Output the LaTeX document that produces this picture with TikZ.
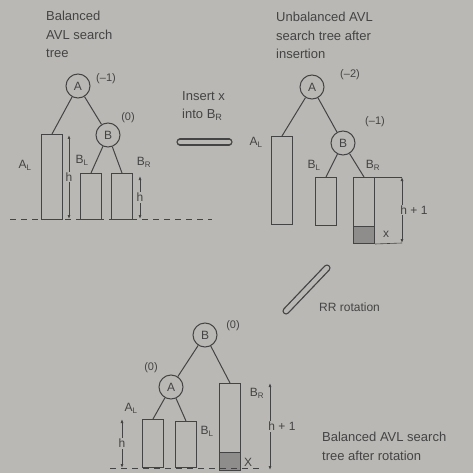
\documentclass[tikz,border=0pt]{standalone}
\usepackage{fontspec}
\setmainfont{Liberation Sans}
\usepackage{tikz}
\usetikzlibrary{positioning,arrows.meta}
\definecolor{paper}{RGB}{186,184,181}
\definecolor{ink}{RGB}{68,68,68}
\definecolor{shade}{RGB}{142,141,139}
\tikzset{
  avl/.style={draw=ink,line width=1pt,circle,minimum size=24pt,inner sep=0pt,text=ink,font=\fontsize{12}{12}\selectfont},
  sub/.style={draw=ink,line width=1pt,minimum width=21pt,inner sep=0pt,anchor=north},
  lbl/.style={text=ink,inner sep=1pt,font=\fontsize{12}{14}\selectfont},
  bal/.style={text=ink,inner sep=0pt,font=\fontsize{11}{11}\selectfont},
  txt/.style={text=ink,inner sep=0pt,anchor=north west,align=left,font=\fontsize{13}{18.5}\selectfont},
  edg/.style={draw=ink,line width=1pt},
  hgt/.style={{Latex[length=4pt,width=3pt]}-{Latex[length=4pt,width=3pt]},draw=ink,line width=0.9pt},
  dim/.style={draw=ink,semithick},
  base/.style={draw=ink,line width=1pt,dash pattern=on 6pt off 5pt},
  big/.style={draw=ink,line width=1.3pt,double=paper,double distance=4.5pt,line cap=round},
}
\begin{document}
\begin{tikzpicture}[x=1pt,y=-1pt]
  \fill[paper] (0,0) rectangle (473,473);
  \useasboundingbox (0,0) rectangle (473,473);
  % balanced tree
  \node[txt] (t1) at (46,11) {Balanced\\AVL search\\tree};
  \node[avl] (a1) at (78,86) {A};
  \node[avl] (b1) at (108,135) {B};
  \node[sub,minimum height=85] (al1) at (52,134) {};
  \node[sub,minimum height=46] (bl1) at (91,173) {};
  \node[sub,minimum height=46] (br1) at (122,173) {};
  \node[bal] at (106,79) {(\textendash1)};
  \node[bal] at (128,118) {(0)};
  \node[lbl] at (25,165) {A\textsubscript{L}};
  \node[lbl] at (82,160) {B\textsubscript{L}};
  \node[lbl] at (144,162) {B\textsubscript{R}};
  \draw[edg] (a1) -- (al1.north);
  \draw[edg] (a1) -- (b1);
  \draw[edg] (b1) -- (bl1.north);
  \draw[edg] (b1) -- (br1.north);
  \coordinate (g1l) at (10,219);
  \coordinate (g1r) at (212,219);
  \draw[base] (g1l) -- (g1r);
  \coordinate (h1t) at (69,135);
  \coordinate (h1b) at (69,219);
  \draw[hgt] (h1t) -- node[lbl,fill=paper]{h} (h1b);
  \coordinate (h2t) at (140,176);
  \coordinate (h2b) at (140,219);
  \draw[hgt] (h2t) -- node[lbl,fill=paper]{h} (h2b);
  % insertion
  \node[txt] (ins) at (182,91) {Insert x\\into B\textsubscript{R}};
  \coordinate (i1) at (180,142);
  \coordinate (i2) at (229,142);
  \draw[big] (i1) -- (i2);
  % unbalanced tree
  \node[txt] (t2) at (276,12) {Unbalanced AVL\\search tree after\\insertion};
  \node[avl] (a2) at (312,87) {A};
  \node[avl] (b2) at (343,143) {B};
  \node[sub,minimum height=88] (al2) at (282,136) {};
  \node[sub,minimum height=48] (bl2) at (326,177) {};
  \node[sub,minimum height=66] (br2) at (364,177) {};
  \node[sub,fill=shade,minimum height=17,anchor=south] (x2) at (br2.south) {};
  \node[bal] at (350,75) {(\textendash2)};
  \node[bal] at (375,122) {(\textendash1)};
  \node[lbl] at (256,142) {A\textsubscript{L}};
  \node[lbl] at (314,165) {B\textsubscript{L}};
  \node[lbl] at (373,165) {B\textsubscript{R}};
  \draw[edg] (a2) -- (al2.north);
  \draw[edg] (a2) -- (b2);
  \draw[edg] (b2) -- (bl2.north);
  \draw[edg] (b2) -- (br2.north);
  \coordinate (d2t) at (402,177);
  \coordinate (d2b) at (402,243);
  \draw[dim] (br2.north east) -- (d2t);
  \draw[dim] (br2.south east) -- (d2b);
  \draw[hgt] (d2t) -- node[lbl,fill=paper,xshift=12]{h + 1} (d2b);
  \node[lbl] at (386,234) {x};
  % rotation
  \coordinate (r1) at (327,268);
  \coordinate (r2) at (286,311);
  \draw[big] (r1) -- (r2);
  \node[lbl,anchor=west] (rr) at (318,307) {RR rotation};
  % rebalanced tree
  \node[avl] (b3) at (205,335) {B};
  \node[avl] (a3) at (171,387) {A};
  \node[sub,minimum height=48] (al3) at (153,419) {};
  \node[sub,minimum height=46] (bl3) at (186,421) {};
  \node[sub,minimum height=87] (br3) at (230,383) {};
  \node[sub,fill=shade,minimum height=18,anchor=south] (x3) at (br3.south) {};
  \node[bal] at (233,326) {(0)};
  \node[bal] at (151,368) {(0)};
  \node[lbl] at (131,408) {A\textsubscript{L}};
  \node[lbl] at (207,431) {B\textsubscript{L}};
  \node[lbl] at (257,393) {B\textsubscript{R}};
  \node[lbl] at (248,462) {X};
  \draw[edg] (b3) -- (a3);
  \draw[edg] (b3) -- (br3.north);
  \draw[edg] (a3) -- (al3.north);
  \draw[edg] (a3) -- (bl3.north);
  \coordinate (g3l) at (110,468);
  \coordinate (g3r) at (262,468);
  \draw[base] (g3l) -- (g3r);
  \coordinate (h3t) at (122,419);
  \coordinate (h3b) at (122,468);
  \draw[hgt] (h3t) -- node[lbl,fill=paper]{h} (h3b);
  \coordinate (h4t) at (270,383);
  \coordinate (h4b) at (270,470);
  \draw[hgt] (h4t) -- node[lbl,fill=paper,xshift=12]{h + 1} (h4b);
  \node[txt] (t3) at (322,432) {Balanced AVL search\\tree after rotation};
\end{tikzpicture}
\end{document}
